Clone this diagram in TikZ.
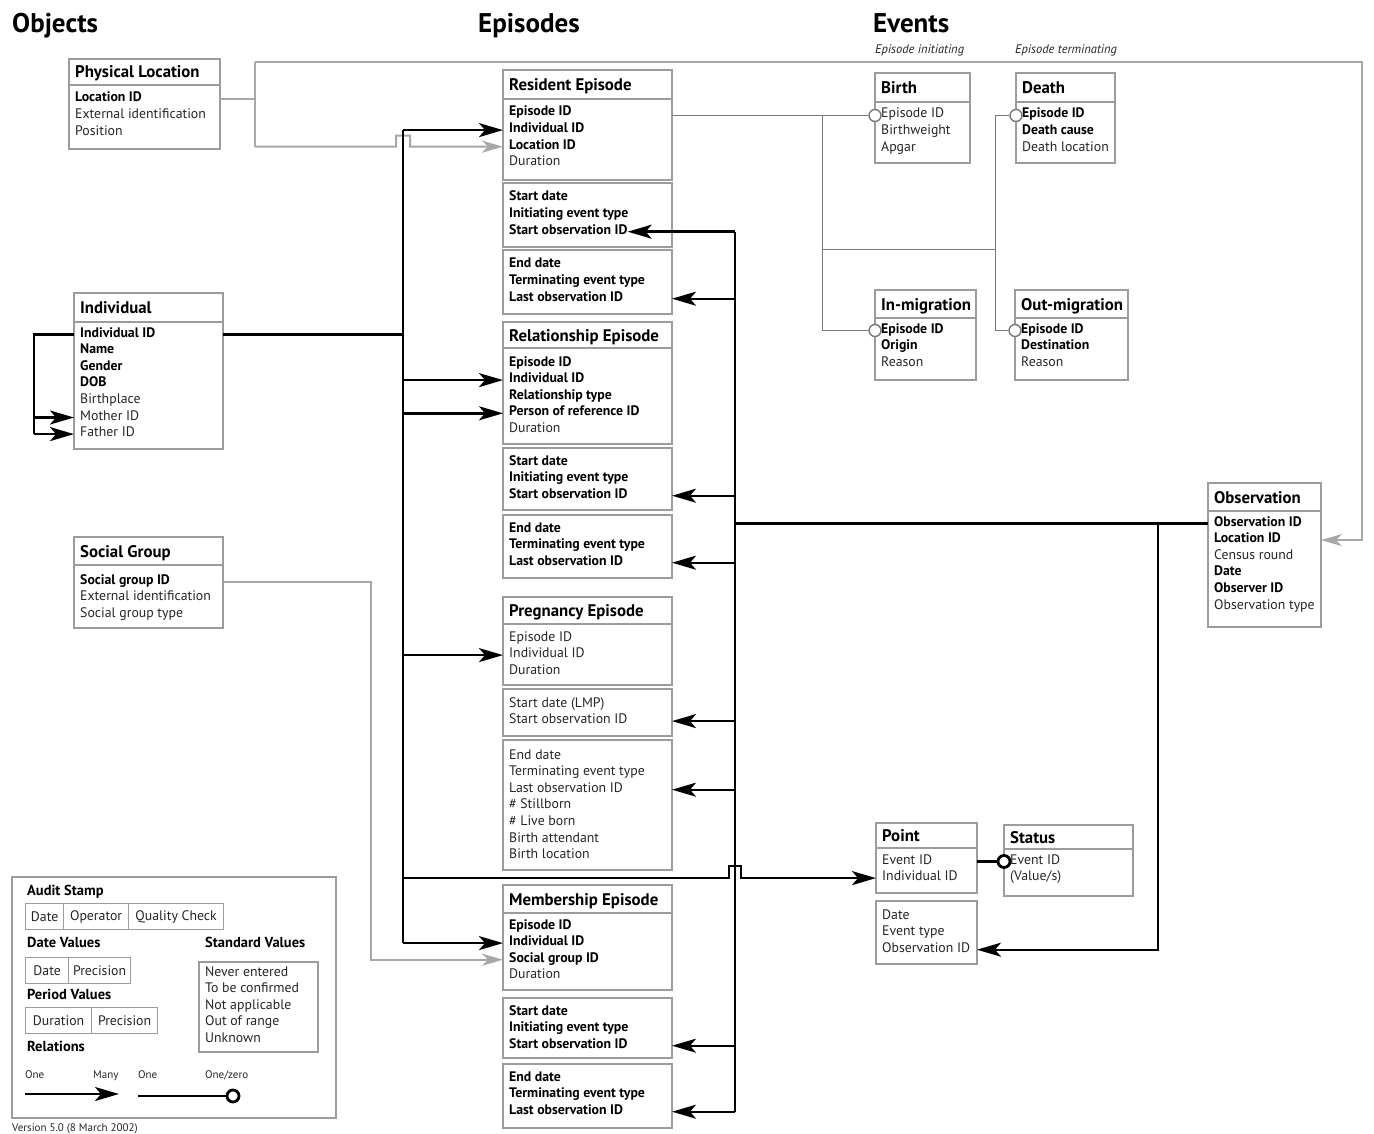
\documentclass[tikz,border=0pt]{standalone}
\usepackage{fontspec}
\setmainfont{PT Sans}
\usetikzlibrary{arrows.meta,calc}

\definecolor{boxgray}{HTML}{9C9C9C}
\definecolor{linkgray}{HTML}{A8A8A8}
\definecolor{evgray}{HTML}{7A7A7A}
\definecolor{txtgray}{HTML}{262626}

\newcommand\bfld[1]{{\color{black}\bfseries #1}}
\newcommand\fieldfont{\fontsize{13.8}{16}\selectfont}
\newcommand\titlefont{\fontsize{16.8}{19}\selectfont\bfseries}

% table with a title bar: name, x1, y1, x2, y2, divider y, title
\newcommand\entity[7]{%
  \node[box, minimum width={(#4-#2)*1pt}, minimum height={(#5-#3)*1pt}] (#1) at (#2,#3) {};
  \draw[boxline] (#1.west |- 0,#6) -- (#1.east |- 0,#6);
  \node[ttl] (#1-t) at ({#2+6},{(#3+#6)/2+3.5}) {#7};
}
% table part without a title: name, x1, y1, x2, y2
\newcommand\tblpart[5]{%
  \node[box, minimum width={(#4-#2)*1pt}, minimum height={(#5-#3)*1pt}] (#1) at (#2,#3) {};
}
% field rows: name prefix, x, first row y, list of rows
\newcommand\fields[4]{%
  \foreach \t [count=\i] in {#4} {\node[fld] (#1-\i) at (#2,{#3+1.5+(\i-1)*16.6}) {\t};}
}

\begin{document}
\begin{tikzpicture}[x=1pt,y=-1pt,
  box/.style={draw=boxgray, line width=1.2pt, inner sep=0pt, outer sep=0pt, anchor=north west, fill=white},
  boxline/.style={draw=boxgray, line width=1.2pt},
  fld/.style={anchor=mid west, inner sep=0pt, font=\fieldfont, text=txtgray},
  ttl/.style={anchor=mid west, inner sep=0pt, font=\titlefont, text=black},
  blk/.style={line width=2.4pt, draw=black},
  arr/.style={blk, -{Stealth[length=24pt,width=14pt,inset=6pt]}},
  gline/.style={line width=2pt, draw=linkgray},
  garr/.style={gline, -{Stealth[length=21pt,width=12pt,inset=6pt,fill=linkgray]}},
  evline/.style={line width=1pt, draw=evgray},
  ocirc/.style={circle, draw=evgray, line width=1.4pt, fill=white, minimum size=12pt, inner sep=0pt},
  bcirc/.style={circle, draw=black, line width=2.8pt, fill=white, minimum size=12pt, inner sep=0pt},
  cell/.style={draw=boxgray, line width=1.2pt, anchor=north west, inner sep=0pt, font=\fieldfont, text=txtgray, minimum height=26pt},
  head/.style={anchor=mid west, inner sep=0pt, font=\fontsize{27}{30}\selectfont\bfseries},
  sub/.style={anchor=mid west, inner sep=0pt, font=\fontsize{12.5}{14}\selectfont\itshape, text=txtgray},
  lbl/.style={anchor=mid west, inner sep=0pt, font=\fontsize{14.5}{16}\selectfont\bfseries},
  tiny/.style={anchor=mid west, inner sep=0pt, font=\fontsize{11}{13}\selectfont, text=txtgray}]
\useasboundingbox (0,0) rectangle (1374,1134);
\fill[white] (0,0) rectangle (1374,1134);

% column headings
\node[head] (h-obj) at (12,30) {Objects};
\node[head] (h-epi) at (478,30) {Episodes};
\node[head] (h-evt) at (873,30) {Events};
\node[sub] (h-init) at (875,51) {Episode initiating};
\node[sub] (h-term) at (1015,51) {Episode terminating};

% ---------- objects ----------
\entity{phys}{69}{59}{220}{149}{85}{Physical Location}
\fields{phys}{75}{98}{\bfld{Location ID}, External identification, Position}

\entity{indiv}{74}{293}{223}{449}{322}{Individual}
\fields{indiv}{80}{333}{\bfld{Individual ID}, \bfld{Name}, \bfld{Gender}, \bfld{DOB}, Birthplace, Mother ID, Father ID}

\entity{social}{74}{537}{223}{628}{565}{Social Group}
\fields{social}{80}{580}{\bfld{Social group ID}, External identification, Social group type}

% ---------- episodes ----------
\entity{res}{503}{70}{672}{180}{99}{Resident Episode}
\fields{res}{509}{112}{\bfld{Episode ID}, \bfld{Individual ID}, \bfld{Location ID}, Duration}
\tblpart{res2}{503}{183}{672}{247}
\fields{res2}{509}{197}{\bfld{Start date}, \bfld{Initiating event type}, \bfld{Start observation ID}}
\tblpart{res3}{503}{250}{672}{314}
\fields{res3}{509}{264}{\bfld{End date}, \bfld{Terminating event type}, \bfld{Last observation ID}}

\entity{rel}{503}{322}{672}{444}{348}{Relationship Episode}
\fields{rel}{509}{362}{\bfld{Episode ID}, \bfld{Individual ID}, \bfld{Relationship type}, \bfld{Person of reference ID}, Duration}
\tblpart{rel2}{503}{448}{672}{510}
\fields{rel2}{509}{461}{\bfld{Start date}, \bfld{Initiating event type}, \bfld{Start observation ID}}
\tblpart{rel3}{503}{515}{672}{578}
\fields{rel3}{509}{528}{\bfld{End date}, \bfld{Terminating event type}, \bfld{Last observation ID}}

\entity{preg}{503}{597}{672}{685}{624}{Pregnancy Episode}
\fields{preg}{509}{637}{Episode ID, Individual ID, Duration}
\tblpart{preg2}{503}{689}{672}{736}
\fields{preg2}{509}{703}{Start date (LMP), Start observation ID}
\tblpart{preg3}{503}{740}{672}{870}
\fields{preg3}{509}{755}{End date, Terminating event type, Last observation ID, \# Stillborn, \# Live born, Birth attendant, Birth location}

\entity{mem}{503}{885}{672}{990}{913}{Membership Episode}
\fields{mem}{509}{925}{\bfld{Episode ID}, \bfld{Individual ID}, \bfld{Social group ID}, Duration}
\tblpart{mem2}{503}{998}{672}{1058}
\fields{mem2}{509}{1011}{\bfld{Start date}, \bfld{Initiating event type}, \bfld{Start observation ID}}
\tblpart{mem3}{503}{1064}{672}{1128}
\fields{mem3}{509}{1077}{\bfld{End date}, \bfld{Terminating event type}, \bfld{Last observation ID}}

% ---------- events ----------
\entity{birth}{875}{73}{970}{163}{102}{Birth}
\fields{birth}{881}{114}{Episode ID, Birthweight, Apgar}
\entity{death}{1016}{73}{1115}{163}{102}{Death}
\fields{death}{1022}{114}{\bfld{Episode ID}, \bfld{Death cause}, Death location}
\entity{inmig}{875}{290}{976}{380}{318}{In-migration}
\fields{inmig}{881}{329}{\bfld{Episode ID}, \bfld{Origin}, Reason}
\entity{outmig}{1015}{290}{1128}{380}{318}{Out-migration}
\fields{outmig}{1021}{329}{\bfld{Episode ID}, \bfld{Destination}, Reason}

\entity{obs}{1208}{483}{1321}{627}{511}{Observation}
\fields{obs}{1214}{522}{\bfld{Observation ID}, \bfld{Location ID}, Census round, \bfld{Date}, \bfld{Observer ID}, Observation type}

\entity{point}{876}{823}{977}{893}{848}{Point}
\fields{point}{882}{860}{Event ID, Individual ID}
\tblpart{point2}{876}{901}{977}{964}
\fields{point2}{882}{915}{Date, Event type, Observation ID}
\entity{status}{1004}{825}{1133}{896}{849}{Status}
\fields{status}{1010}{860}{Event ID, (Value/s)}

% ---------- trunk positions ----------
\coordinate (selfx) at (34,0);
\coordinate (sgx) at (371,0);
\coordinate (ltx) at (403,0);
\coordinate (rtx) at (735,0);
\coordinate (ev1) at (822,0);
\coordinate (ev2) at (995,0);
\coordinate (ejoin) at (822,250);
\coordinate (odrop) at (1158,0);
\coordinate (gsplit) at (255,0);
\coordinate (gtop) at (255,62);
\coordinate (gbot) at (255,146.7);
\coordinate (gright) at (1362,0);

% location links (grey)
\draw[gline] (phys.east |- phys-1.mid) -- (gsplit |- phys-1.mid);
\draw[gline] (gtop) -- (gbot);
\draw[garr] (gtop) -| (gright |- obs-2.mid) -- (obs.east |- obs-2.mid);
\draw[garr] (gbot) -- ($(ltx |- gbot)+(-7,0)$) -- ++(0,-11) -- ++(14,0) -- ++(0,11) -- (res.west |- res-3.mid);

% social group link (grey)
\draw[garr] (social.east |- social-1.mid) -- (sgx |- social-1.mid) -- (sgx |- mem-3.mid) -- (mem.west |- mem-3.mid);

% individual links
\draw[blk] (indiv.west |- indiv-1.mid) -- (selfx |- indiv-1.mid) -- (selfx |- indiv-7.mid);
\draw[arr] (selfx |- indiv-6.mid) -- (indiv.west |- indiv-6.mid);
\draw[arr] (selfx |- indiv-7.mid) -- (indiv.west |- indiv-7.mid);
\draw[blk] (indiv.east |- indiv-1.mid) -- (ltx |- indiv-1.mid);
\draw[blk] (ltx |- res-2.mid) -- (ltx |- mem-2.mid);
\draw[arr] (ltx |- res-2.mid) -- (res.west |- res-2.mid);
\draw[arr] (ltx |- rel-2.mid) -- (rel.west |- rel-2.mid);
\draw[arr] (ltx |- rel-4.mid) -- (rel.west |- rel-4.mid);
\draw[arr] (ltx |- preg-2.mid) -- (preg.west |- preg-2.mid);
\draw[arr] (ltx |- mem-2.mid) -- (mem.west |- mem-2.mid);
\draw[arr] (ltx |- point-2.mid) -- ($(rtx |- point-2.mid)+(-6,0)$) -- ++(0,-12) -- ++(12,0) -- ++(0,12) -- (point.west |- point-2.mid);

% observation links
\draw[blk] (rtx |- res2-3.mid) -- (rtx |- mem3-3.mid);
\draw[blk] (rtx |- obs-1.mid) -- (obs.west |- obs-1.mid);
\draw[arr] (rtx |- res2-3.mid) -- (res2-3.mid east);
\draw[arr] (rtx |- res3-3.mid) -- (res3.east |- res3-3.mid);
\draw[arr] (rtx |- rel2-3.mid) -- (rel2.east |- rel2-3.mid);
\draw[arr] (rtx |- rel3-3.mid) -- (rel3.east |- rel3-3.mid);
\draw[arr] (rtx |- preg2-2.mid) -- (preg2.east |- preg2-2.mid);
\draw[arr] (rtx |- preg3-3.mid) -- (preg3.east |- preg3-3.mid);
\draw[arr] (rtx |- mem2-3.mid) -- (mem2.east |- mem2-3.mid);
\draw[arr] (rtx |- mem3-3.mid) -- (mem3.east |- mem3-3.mid);
\draw[arr] (odrop |- obs-1.mid) -- (odrop |- point2-3.mid) -- (point2.east |- point2-3.mid);

% event links
\node[ocirc] (bc) at (birth.west |- birth-1.mid) {};
\node[ocirc] (dc) at (death.west |- death-1.mid) {};
\node[ocirc] (ic) at (inmig.west |- inmig-1.mid) {};
\node[ocirc] (oc) at (outmig.west |- outmig-1.mid) {};
\draw[evline] (res.east |- bc) -- (bc.west);
\draw[evline] (ev1 |- bc) -- (ev1 |- ic) -- (ic.west);
\draw[evline] (ejoin) -- (ev2 |- ejoin);
\draw[evline] (ev2 |- dc) -- (ev2 |- oc) -- (oc.west);
\draw[evline] (ev2 |- dc) -- (dc.west);

% point to status
\node[bcirc] (sc) at (status.west |- status-1.mid) {};
\draw[blk] (point.east |- sc) -- (sc.west);

% ---------- legend ----------
\node[box, minimum width=324pt, minimum height=241pt] (legend) at (12,877) {};
\node[lbl] (lg-audit) at (27,893) {Audit Stamp};
\node[cell, minimum width=38pt] (as-a) at (25,903) {Date};
\node[cell, minimum width=65pt] (as-b) at (63,903) {Operator};
\node[cell, minimum width=95pt] (as-c) at (128,903) {Quality Check};
\node[lbl] (lg-date) at (27,945) {Date Values};
\node[cell, minimum width=43pt] (dv-a) at (25,957) {Date};
\node[cell, minimum width=62pt] (dv-b) at (68,957) {Precision};
\node[lbl] (lg-period) at (27,997) {Period Values};
\node[cell, minimum width=66pt] (pv-a) at (25,1007) {Duration};
\node[cell, minimum width=66pt] (pv-b) at (91,1007) {Precision};
\node[lbl] (lg-rel) at (27,1049) {Relations};
\node[lbl] (lg-std) at (205,945) {Standard Values};
\tblpart{sv}{199}{962}{318}{1052}
\fields{sv}{205}{972}{Never entered, To be confirmed, Not applicable, Out of range, Unknown}
\node[tiny] (r-one) at (25,1076) {One};
\node[tiny] (r-many) at (93,1076) {Many};
\node[tiny] (r-one2) at (138,1076) {One};
\node[tiny] (r-oz) at (205,1076) {One/zero};
\coordinate (la1) at (25,1094);
\coordinate (la2) at (119,1094);
\draw[arr] (la1) -- (la2);
\coordinate (lc1) at (138,1096);
\node[bcirc] (lc2) at (233,1096) {};
\draw[blk] (lc1) -- (lc2.west);
\node[tiny] (version) at (12,1129) {Version 5.0 (8 March 2002)};
\end{tikzpicture}
\end{document}
